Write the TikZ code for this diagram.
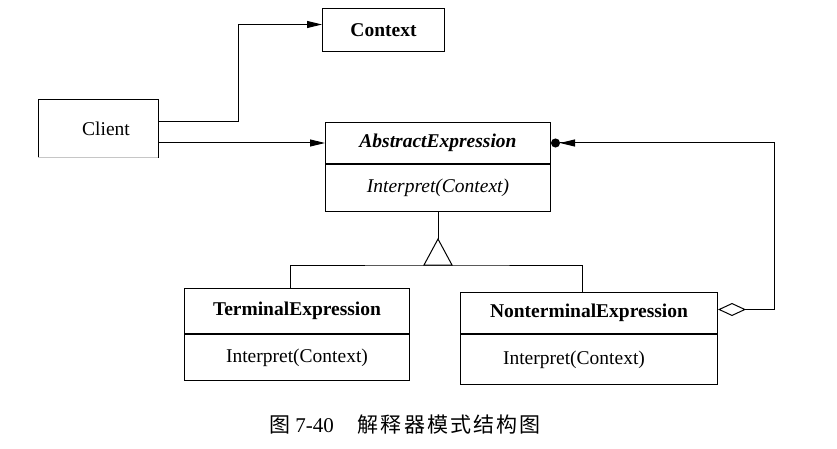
\documentclass[tikz,border=0pt]{standalone}
\usepackage{fontspec}
\setmainfont{Liberation Serif}
\newfontfamily\cjk[LetterSpace=10]{Noto Sans CJK SC}
\usetikzlibrary{arrows.meta,calc}
\begin{document}
\begin{tikzpicture}[x=1pt,y=-1pt,line width=1pt,
  box/.style={draw, rectangle, inner sep=0pt, anchor=north west, font=\fontsize{19.5}{22}\selectfont},
  arr/.style={-{Triangle[length=15pt,width=7pt]}}]
\useasboundingbox (0,0) rectangle (837,449);
% boxes
\node[box, minimum width=122pt, minimum height=43pt, font=\fontsize{19.5}{22}\selectfont\bfseries] (context) at (322,8) {Context};
\node[box, draw=none, minimum width=119pt, minimum height=57pt, label={[xshift=8pt,font=\fontsize{19.5}{22}\selectfont]center:Client}] (client) at (38,100) {};
\draw (client.south west) |- (client.north east) -- (client.south east);
\draw[gray!45] (client.south west) -- (client.south east);
\node[box, minimum width=225pt, minimum height=41pt, font=\fontsize{19.5}{22}\selectfont\bfseries\itshape] (ae) at (325,122) {AbstractExpression};
\node[box, minimum width=225pt, minimum height=47pt, font=\fontsize{19.5}{22}\selectfont\itshape] (aem) at (ae.south west) {Interpret(Context)};
\node[box, minimum width=225pt, minimum height=45pt, font=\fontsize{19.5}{22}\selectfont\bfseries] (te) at (184,288) {TerminalExpression};
\node[box, minimum width=225pt, minimum height=46pt] (tem) at (te.south west) {Interpret(Context)};
\node[box, minimum width=257pt, minimum height=41pt, font=\fontsize{19.5}{22}\selectfont\bfseries] (ne) at (460,292) {NonterminalExpression};
\node[box, minimum width=257pt, minimum height=50pt] (nem) at (ne.south west) {Interpret(Context)\hspace*{30pt}};
% associations
\draw[arr] ([yshift=7.5pt]client.east) -| ([xshift=-84pt,yshift=5.5pt]context.west) -- ([yshift=5.5pt]context.west);
\draw[arr] (client.east |- ae.west) -- (ae.west);
% inheritance
\draw (aem.south) -- ++(0,27) coordinate (apex);
\coordinate (base) at ($(apex)+(0,26)$);
\draw (apex) -- ++(-14,26) -- ++(28,0) -- cycle;
\draw ([xshift=-6.5pt]te.north) |- (base) -| ([xshift=-6.5pt]ne.north);
% aggregation
\draw[{Diamond[open,length=28pt,width=13pt]}-{Triangle[length=15pt,width=7pt] Circle[length=9pt]}]
  ([yshift=3.5pt]ne.east) -- ++(56,0) |- (ae.east);
% caption
\node[font=\fontsize{21}{24}\selectfont] (cap) at (405,425) {{\cjk 图}\hspace{5pt}7-40\hspace{24pt}{\cjk 解释器模式结构图}};
\end{tikzpicture}
\end{document}
